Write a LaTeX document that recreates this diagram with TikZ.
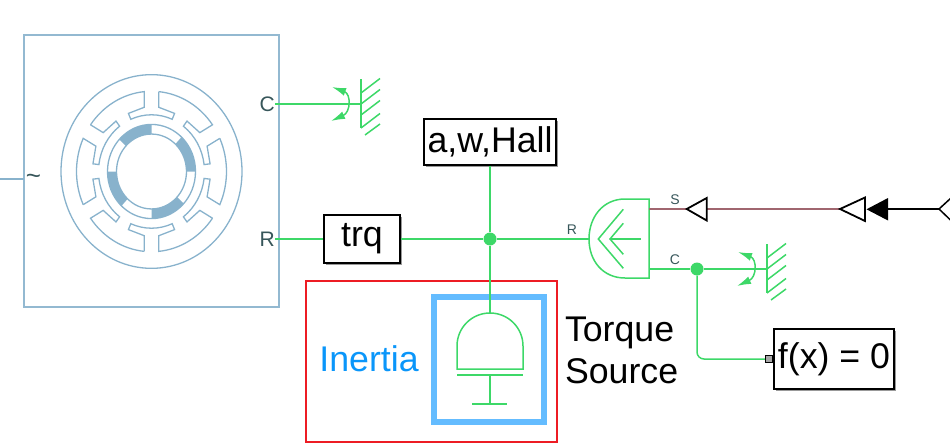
\documentclass[tikz,border=0pt]{standalone}
\usepackage{fontspec}
\setmainfont{Liberation Sans}
\usetikzlibrary{arrows.meta,shadows}
\definecolor{motorLine}{HTML}{88B2CC}
\definecolor{motorBox}{HTML}{93B9D1}
\definecolor{portText}{HTML}{37565A}
\definecolor{rotLine}{HTML}{3DD868}
\definecolor{senseLine}{HTML}{A0666F}
\definecolor{hiBlue}{HTML}{64BCFF}
\definecolor{hiText}{HTML}{0A96FA}
\definecolor{hiRed}{HTML}{ED1C24}
\tikzset{
  wire/.style={rotLine,line width=1.5pt},
  block/.style={draw=black,fill=white,line width=1.5pt,inner sep=0pt,
    font=\fontsize{35.7}{38}\selectfont,text=black,
    drop shadow={shadow xshift=2pt,shadow yshift=-2pt,fill=black,opacity=.4}},
  joint/.style={circle,fill=rotLine,inner sep=0pt,minimum size=13pt},
  portlabel/.style={text=portText,inner sep=0pt,font=\fontsize{21}{24}\selectfont},
  tinylabel/.style={text=portText,inner sep=0pt,font=\fontsize{14}{16}\selectfont},
  bigtext/.style={inner sep=0pt,font=\fontsize{35.7}{42}\selectfont}
}
% wall symbol with the two little rotation arrows
\newcommand{\rotground}[2]{%
  \begin{scope}[shift={(#1,#2)}]
    \draw[wire] (0,-25) -- (0,24);
    \foreach \yy in {-11,0,11,24} \draw[wire] (0,\yy) -- ++(19,-14.5);
    \draw[wire] (4,31) -- (19,20);
    \draw[wire,{Latex[length=14pt,width=8pt]}-{Latex[length=14pt,width=8pt]}]
      (-29,-17) .. controls (-10,-10) and (-10,8) .. (-30,17);
  \end{scope}}
\begin{document}
\begin{tikzpicture}[x=1pt,y=-1pt]
  \useasboundingbox (0,0) rectangle (950,447);
  % motor
  \node[draw=motorBox,line width=1.5pt,minimum width=255pt,minimum height=272pt,inner sep=0pt]
    (motor) at (151.5,171) {};
  \begin{scope}[shift={(151.5,171.5)},y=1pt,yscale=1.07,motorLine,line width=1.3pt]
    \draw (0,0) circle (90.5);
    \foreach \ang in {0,60,...,300}
      \draw[rotate=\ang] (84.4:75) -- (7.3,60) -- (67:59) -- (67:53)
        arc[start angle=67,end angle=113,radius=53] -- (113:59) -- (-7.3,60)
        -- (95.6:75) arc[start angle=95.6,end angle=144.4,radius=75];
    \foreach \ang in {0,90,180,270}
      \fill[rotate=\ang] (0:35) arc[start angle=0,end angle=47,radius=35]
        -- (47:44) arc[start angle=47,end angle=0,radius=44] -- cycle;
    \draw (0,0) circle (44);
    \draw (0,0) circle (35);
  \end{scope}
  \node[portlabel,anchor=east] (labelC) at (275,104) {C};
  \node[portlabel,anchor=east] (labelR) at (275,239) {R};
  \node[portlabel,font=\fontsize{26}{28}\selectfont] (labelAC) at (33.5,179) {\char`~};
  \coordinate (acIn) at (0,179);
  \coordinate (acPort) at (24,179);
  \draw[motorLine,line width=1.3pt] (acIn) -- (acPort);
  % blocks
  \node[block,minimum width=76pt,minimum height=48pt] (trq) at (362,239) {trq};
  \node[block,minimum width=132pt,minimum height=46pt] (hall) at (490,142) {a,w,Hall};
  \node[block,minimum width=120pt,minimum height=60pt] (solver) at (834,359) {f(x) = 0};
  \node[joint] (jMain) at (490,239) {};
  \node[joint] (jCase) at (697,269) {};
  \node[draw=black,fill=black!35,line width=1.2pt,minimum size=7pt,inner sep=0pt] (port) at (769,359) {};
  % highlight
  \node[draw=hiRed,line width=1.5pt,minimum width=251pt,minimum height=161pt,inner sep=0pt]
    (redbox) at (431.3,361.3) {};
  \node[draw=hiBlue,line width=6pt,minimum width=110pt,minimum height=125pt,inner sep=0pt]
    (bluebox) at (489,359.5) {};
  \node[bigtext,text=hiText] (inertia) at (369,359) {Inertia};
  \node[bigtext,text=black,align=left,anchor=west] (source) at (564.8,350) {Torque\\Source};
  % inertia symbol
  \coordinate (domeTop) at (490,313);
  \draw[wire] (457,369) -- (457,346) arc[start angle=180,end angle=360,radius=33] -- (523,369) -- cycle;
  \draw[wire] (457,375) -- (523,375);
  \draw[wire] (490,375) -- (490,404);
  \draw[wire] (472,404) -- (507,404);
  % torque sensor
  \coordinate (sensR) at (589,239);
  \coordinate (sensS) at (649,209);
  \coordinate (sensC) at (649,269);
  \draw[wire] (649,199) -- (625,199) .. controls (603,199) and (589,217) .. (sensR)
    .. controls (589,261) and (603,278) .. (625,278) -- (649,278) -- cycle;
  \draw[wire] (623.3,209.3) -- (598.3,239) -- (623.3,268.3);
  \draw[wire] (623.3,223.3) -- (610,239) -- (623.3,254.3);
  \draw[wire] (610,239) -- (641,239);
  \node[tinylabel] (labelSensR) at (572,230) {R};
  \node[tinylabel] (labelSensS) at (675,200) {S};
  \node[tinylabel] (labelSensC) at (675,260) {C};
  % wires
  \coordinate (wallA) at (361,104);
  \coordinate (wallB) at (767,269);
  \draw[wire] (labelC.east) -- (wallA);
  \draw[wire] (labelR.east) -- (trq.west);
  \draw[wire] (trq.east) -- (jMain);
  \draw[wire] (hall.south) -- (jMain);
  \draw[wire] (jMain) -- (domeTop);
  \draw[wire] (jMain) -- (sensR);
  \draw[wire] (sensC) -- (jCase);
  \draw[wire] (jCase) -- (wallB);
  \draw[wire,rounded corners=7pt] (jCase) |- (port.west);
  \rotground{361}{104}
  \rotground{767}{269}
  % signal converters
  \coordinate (tipA) at (686.7,209);
  \coordinate (baseA) at (706.7,209);
  \coordinate (tipB) at (840,209);
  \coordinate (baseB) at (888,209);
  \coordinate (tipC) at (939,209);
  \draw[senseLine,line width=1.5pt] (sensS) -- (tipA);
  \draw[senseLine,line width=1.5pt] (baseA) -- (tipB);
  \draw[black,line width=1.2pt] (baseB) -- (tipC);
  \draw[black,line width=1.8pt] (tipA) -- (706.7,198) -- (706.7,220.5) -- cycle;
  \draw[black,line width=1.8pt] (tipB) -- (865,197.5) -- (865,221) -- cycle;
  \fill[black] (866.5,209.3) -- (888,198) -- (888,220.5) -- cycle;
  \draw[black,line width=1.5pt] (951,198) -- (tipC) -- (951,220.5);
\end{tikzpicture}
\end{document}
